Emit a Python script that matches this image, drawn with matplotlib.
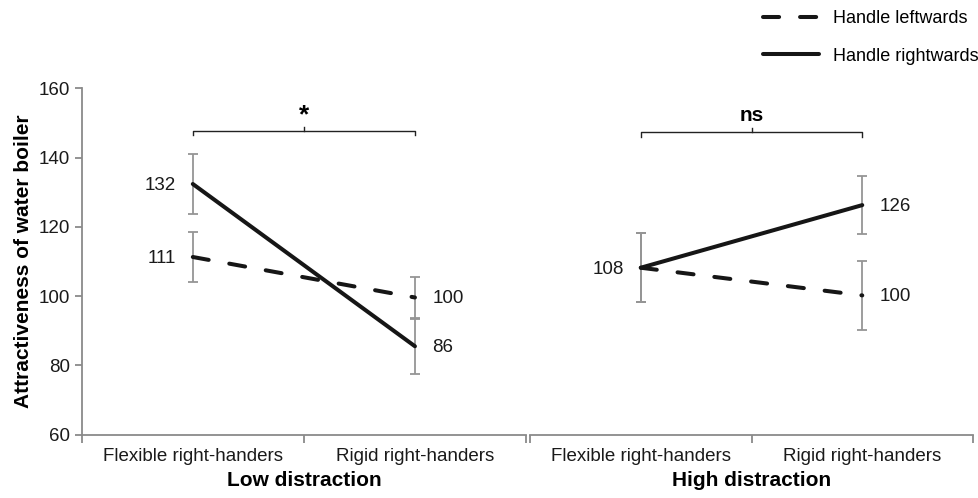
import numpy as np
import matplotlib
matplotlib.use("Agg")
import matplotlib.pyplot as plt
from matplotlib.lines import Line2D

plt.rcParams['font.family'] = ['Liberation Sans', 'DejaVu Sans']

# categories and groups
categories = ["Flexible right-handers", "Rigid right-handers"]
groups = ["Low distraction", "High distraction"]
series = ["Handle leftwards", "Handle rightwards"]

# means per group (flexible, rigid)
low_left = [111.3, 99.6]
low_right = [132.4, 85.5]
high_left = [108.2, 100.2]
high_right = [108.2, 126.3]

# error bar half-widths
low_left_err = [7.1, 6.0]
low_right_err = [8.7, 8.0]
high_left_err = [9.9, 10.0]
high_right_err = [9.9, 8.3]

# printed value labels
low_left_lbl = ["111", "100"]
low_right_lbl = ["132", "86"]
high_left_lbl = ["108", "100"]
high_right_lbl = ["108", "126"]

sig_marks = ["*", "ns"]
bracket_y = [147.7, 147.3]

line_col = "#161616"
err_col = "#959595"
spine_col = "#8a8a8a"
LW = 2.9
DASH = (4.0, 5.2)

fig = plt.figure(figsize=(9.79, 4.98), dpi=100)
ax1 = fig.add_axes([0.0835, 0.1275, 0.4538, 0.6948])
ax2 = fig.add_axes([0.5414, 0.1275, 0.4525, 0.6948])

xpos = np.array([0.5, 1.5])

panels = [
    (ax1, low_left, low_right, low_left_err, low_right_err, low_left_lbl, low_right_lbl),
    (ax2, high_left, high_right, high_left_err, high_right_err, high_left_lbl, high_right_lbl),
]

for i, (ax, lft, rgt, lerr, rerr, llbl, rlbl) in enumerate(panels):
    for vals, errs in ((lft, lerr), (rgt, rerr)):
        ax.errorbar(xpos, vals, yerr=errs, fmt="none", ecolor=err_col,
                    elinewidth=1.3, capsize=3.8, capthick=1.3, zorder=2)
    ax.plot(xpos, lft, color=line_col, lw=LW, dashes=DASH,
            dash_capstyle="round", zorder=3)
    ax.plot(xpos, rgt, color=line_col, lw=LW, solid_capstyle="round", zorder=4)

    # value labels: left point labelled on the left, right point on the right
    shown = set()
    for vals, lbls in ((lft, llbl), (rgt, rlbl)):
        for j in range(2):
            key = (j, lbls[j])
            if key in shown:
                continue
            shown.add(key)
            off = -12 if j == 0 else 12.5
            ax.annotate(lbls[j], (xpos[j], vals[j]), xytext=(off, -1),
                        textcoords="offset points", va="center",
                        ha="right" if j == 0 else "left", fontsize=13.5,
                        color="#1a1a1a")

    # significance bracket
    by = bracket_y[i]
    ax.plot([xpos[0], xpos[0], xpos[1], xpos[1]], [by - 1.2, by, by, by - 1.2],
            color="#222222", lw=1.0, clip_on=False)
    ax.plot([1, 1], [by, by + 1.3], color="#222222", lw=1.0, clip_on=False)
    if sig_marks[i] == "*":
        ax.text(1, by + 1.2, sig_marks[i], ha="center", va="bottom",
                fontsize=19, fontweight="bold")
    else:
        ax.text(1, by + 2.2, sig_marks[i], ha="center", va="bottom",
                fontsize=15, fontweight="bold")

    ax.set_xlim(0, 2)
    ax.set_ylim(60, 160)
    ax.set_xticks([0, 1, 2])
    ax.set_xticklabels([])
    ax.set_xticks(xpos, minor=True)
    ax.set_xticklabels(categories, minor=True, fontsize=13.5, color="#1a1a1a")
    ax.tick_params(axis="x", which="major", length=6, color=spine_col, width=1.3)
    ax.tick_params(axis="x", which="minor", length=0, pad=10)
    ax.text(0.5, -0.132, groups[i], transform=ax.transAxes, ha="center",
            va="center", fontsize=15, fontweight="bold")

    for s in ("top", "right"):
        ax.spines[s].set_visible(False)
    ax.spines["bottom"].set_color(spine_col)
    ax.spines["bottom"].set_linewidth(1.3)
    ax.patch.set_alpha(0)

ax1.set_yticks(np.arange(60, 161, 20))
ax1.tick_params(axis="y", length=5, color=spine_col, width=1.3, labelsize=13.5,
                labelcolor="#1a1a1a")
ax1.spines["left"].set_color(spine_col)
ax1.spines["left"].set_linewidth(1.3)
ax1.set_ylabel("Attractiveness of water boiler", fontsize=15,
               fontweight="bold", labelpad=4)

ax2.spines["left"].set_visible(False)
ax2.set_yticks([])

handles = [
    Line2D([], [], color=line_col, lw=LW, dashes=DASH, dash_capstyle="round"),
    Line2D([], [], color=line_col, lw=LW, solid_capstyle="round"),
]
fig.legend(handles, series, loc="upper right", bbox_to_anchor=(1.0, 0.98),
           frameon=False, fontsize=13, handlelength=3.1, handletextpad=0.8,
           labelspacing=1.15, borderpad=0, borderaxespad=0)

fig.savefig("out.png", dpi=100)
